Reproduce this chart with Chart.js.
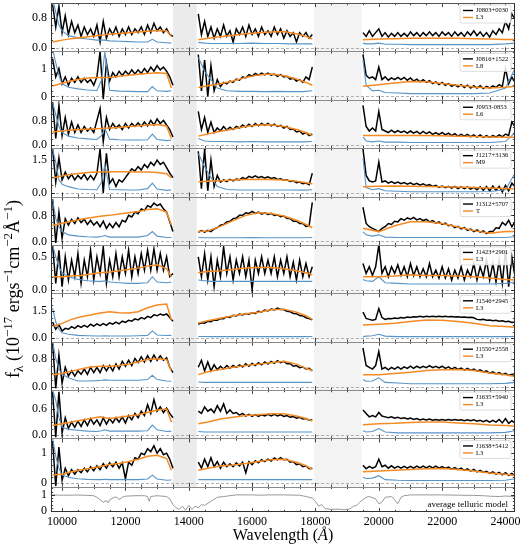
<!DOCTYPE html>
<html lang="en">
<head>
  <meta charset="UTF-8" />
  <title>Spectra and best-fit models</title>
  <style>
    html, body { margin: 0; padding: 0; background: #fff; }
    #wrap { width: 520px; height: 550px; }
  </style>
  <script src="https://cdn.jsdelivr.net/npm/chart.js"></script>
</head>
<body>
  <div id="wrap"><canvas id="spec" width="520" height="550"></canvas></div>

  <script>
    // --- wavelength grids (Angstrom) for the three windows ---
    const wA = [9700,9800,9900,10000,10100,10200,10300,10400,10500,10600,10700,10800,10900,11000,11100,11200,11300,11400,11500,11600,11700,11800,11900,12000,12100,12200,12300,12400,12500,12600,12700,12800,12900,13000,13100,13200,13300,13400,13500];
    const wB = [14300,14400,14500,14600,14700,14800,14900,15000,15100,15200,15300,15400,15500,15600,15700,15800,15900,16000,16100,16200,16300,16400,16500,16600,16700,16800,16900,17000,17100,17200,17300,17400,17500,17600,17700,17800,17900];
    const wC = [19500,19600,19700,19800,19900,20000,20100,20200,20300,20400,20500,20600,20700,20800,20900,21000,21100,21200,21300,21400,21500,21600,21700,21800,21900,22000,22100,22200,22300,22400,22500,22600,22700,22800,22900,23000,23100,23200,23300,23400,23500,23600,23700,23800,23900,24000,24100,24200,24300];
    // model grid
    const mwA = [9700,10000,10300,10600,10900,11200,11500,11800,12100,12400,12700,13000,13300,13450];
    const mwB = [14300,14600,15000,15400,15800,16200,16600,17000,17400,17700,17900];
    const mwC = [19500,20000,20500,21000,21500,22000,22500,23000,23500,24000,24300];
    // noise grid
    const nwA = [9700,9800,9900,10000,10200,10500,10800,11100,11250,11350,11500,11800,12100,12400,12700,12850,13000,13300,13450];
    const nwB = [14300,14500,14700,14900,15200,15600,16000,16400,16800,17200,17600,17900];
    const nwC = [19500,19600,19800,20000,20200,20600,21000,21500,22000,22500,23000,23500,24000,24300];

    const objNames = ['J0803+0030','J0816+1522','J0953-0853','J1217+3136','J1312+5707','J1423+2901','J1546+2945','J1550+2558','J1635+5940','J1638+5412'];
    const objTypes = ['L3','L8','L6','M9','T','L3','L3','L3','L3','L3'];

    // observed spectra (black)
    const f0803 = [1.15,0.55,1.1,0.4,0.85,0.35,0.7,0.4,0.6,0.3, 0.55,0.35,0.5,0.3,0.6,0.15,0.7,0.25,0.5,0.35, 0.55,0.3,0.5,0.35,0.55,0.35,0.5,0.4,0.55,0.35, 0.6,0.4,0.65,0.45,0.55,0.4,0.5,0.35,0.3,
      0.9,0.35,0.7,0.3,0.55,0.25,0.5,0.3,0.6,0.3, 0.45,0.15,0.5,0.35,0.55,0.3,0.6,0.35,0.5,0.3, 0.55,0.35,0.45,0.3,0.55,0.35,0.5,0.25,0.45,0.3, 0.4,0.15,0.4,0.3,0.4,0.25,0.35,
      0.4,0.3,0.45,0.3,0.4,0.5,0.3,0.4,0.28,0.38, 0.3,0.4,0.3,0.38,0.3,0.42,0.32,0.4,0.3,0.4, 0.32,0.42,0.32,0.4,0.3,0.42,0.33,0.4,0.3,0.42, 0.32,0.4,0.3,0.42,0.33,0.45,0.32,0.42,0.3,0.4, 0.28,0.45,0.35,0.5,0.4,0.7,0.5,0.9,0.75];
    const f0816 = [1.35,0.7,1.0,0.45,0.7,0.4,0.65,0.5,0.7,0.5, 0.65,0.5,0.6,0.4,0.7,1.6,-0.1,1.2,0.55,0.85, 0.7,0.9,0.75,0.9,0.78,0.95,0.8,0.95,0.82,1.0, 0.85,1.05,0.9,1.1,0.95,1.05,0.9,0.7,0.4,
      1.5,0.2,1.3,0.0,1.1,0.2,0.6,0.35,0.5,0.45, 0.55,0.5,0.62,0.58,0.7,0.66,0.78,0.72,0.82,0.76, 0.83,0.77,0.83,0.76,0.8,0.72,0.78,0.7,0.72,0.62, 0.65,0.55,0.6,0.5,0.7,0.6,1.05,
      1.5,0.75,0.65,0.7,0.6,1.05,0.6,0.7,0.58,0.66, 0.6,0.68,0.6,0.68,0.58,0.66,0.55,0.62,0.52,0.6, 0.5,0.56,0.46,0.52,0.42,0.5,0.4,0.46,0.36,0.42, 0.34,0.42,0.32,0.4,0.3,0.38,0.3,0.38,0.28,0.36, 0.3,0.38,0.32,0.42,0.35,1.0,0.45,0.7,0.5];
    const f0953 = [1.4,0.2,1.3,0.3,0.9,0.35,0.75,0.4,0.65,0.4, 0.6,0.45,0.55,0.4,0.8,1.2,0.1,0.9,0.5,0.7, 0.55,0.65,0.5,0.7,0.55,0.7,0.6,0.72,0.6,0.75, 0.62,0.8,0.65,0.85,0.7,0.8,0.65,0.5,0.25,
      1.1,0.5,0.9,0.4,0.75,0.4,0.55,0.45,0.6,0.48, 0.58,0.5,0.6,0.55,0.65,0.58,0.68,0.6,0.7,0.62, 0.7,0.64,0.7,0.62,0.68,0.6,0.64,0.55,0.6,0.5, 0.52,0.42,0.45,0.35,0.4,0.3,0.35,
      1.3,0.6,0.45,0.55,0.45,1.1,0.5,0.45,0.4,0.48, 0.4,0.46,0.4,0.45,0.38,0.45,0.38,0.44,0.36,0.44, 0.36,0.42,0.34,0.4,0.33,0.4,0.32,0.38,0.3,0.36, 0.28,0.34,0.28,0.34,0.26,0.32,0.25,0.32,0.24,0.3, 0.24,0.3,0.25,0.32,0.26,0.35,0.3,0.75,0.6];
    const f1217 = [2.0,0.5,1.6,0.6,0.95,0.65,0.85,0.6,0.8,0.65, 0.85,0.6,0.8,0.6,0.9,2.0,0.0,1.8,0.45,0.65, 0.3,0.6,0.5,0.7,0.9,1.1,1.0,1.2,1.05,1.3, 1.15,1.4,1.25,1.5,1.3,1.4,1.15,0.9,0.7,
      1.9,0.2,2.0,0.1,1.5,0.3,0.8,0.5,0.6,0.52, 0.62,0.55,0.64,0.6,0.7,0.64,0.76,0.7,0.78,0.7, 0.75,0.68,0.74,0.66,0.7,0.62,0.65,0.58,0.6,0.52, 0.55,0.47,0.5,0.42,0.45,0.38,0.9,
      2.0,0.8,0.55,0.5,0.55,1.4,0.5,0.55,0.45,0.52, 0.44,0.5,0.42,0.48,0.4,0.46,0.38,0.44,0.36,0.42, 0.34,0.38,0.3,0.35,0.26,0.32,0.24,0.3,0.22,0.3, 0.2,0.28,0.2,0.28,0.18,0.26,0.15,0.28,0.12,0.3, 0.1,0.32,0.12,0.3,0.05,0.35,0.1,0.45,0.3];
    const f1312 = [1.3,-0.05,0.9,0.1,0.7,0.5,0.68,0.55,0.72,0.58, 0.68,0.52,0.65,0.5,0.6,0.45,0.62,0.4,0.55,0.42, 0.58,0.45,0.65,0.6,0.8,0.75,0.9,0.85,1.0,0.95, 1.1,1.05,1.18,1.1,1.15,1.0,0.9,0.6,0.3,
      0.28,0.33,0.28,0.34,0.3,0.38,0.42,0.5,0.52,0.6, 0.62,0.7,0.72,0.8,0.8,0.88,0.86,0.92,0.86,0.9, 0.84,0.88,0.83,0.86,0.8,0.82,0.76,0.78,0.7,0.7, 0.62,0.62,0.55,0.55,0.46,0.48,1.2,
      1.05,0.55,0.45,0.4,0.35,0.3,0.4,0.45,0.55,0.52, 0.62,0.6,0.7,0.65,0.72,0.68,0.74,0.66,0.7,0.64, 0.68,0.6,0.64,0.56,0.6,0.52,0.56,0.48,0.5,0.42, 0.46,0.38,0.42,0.34,0.38,0.3,0.35,0.28,0.32,0.24, 0.3,0.3,0.42,0.4,0.58,0.5,0.65,0.45,0.6];
    const f1423 = [0.68,0.1,0.6,0.05,0.5,0.15,0.45,0.2,0.55,0.1, 0.45,0.2,0.6,0.15,0.5,0.25,0.65,0.1,0.45,0.2, 0.55,0.2,0.5,0.25,0.6,0.2,0.5,0.25,0.55,0.3, 0.6,0.3,0.62,0.3,0.55,0.3,0.5,0.2,0.25,
      0.5,0.2,0.55,0.15,0.5,0.05,0.45,0.2,0.65,0.25, 0.5,0.15,0.45,0.25,0.5,0.2,0.45,0.0,0.45,0.25, 0.5,0.25,0.45,0.25,0.5,0.2,0.45,0.25,0.5,0.2, 0.42,0.15,0.45,0.2,0.4,0.2,0.35,
      0.4,0.25,0.35,0.22,0.35,0.68,0.25,0.35,0.2,0.35, 0.25,0.38,0.22,0.35,0.2,0.4,0.22,0.35,0.2,0.32, 0.2,0.4,0.2,0.3,0.18,0.35,0.18,0.32,0.15,0.3, 0.18,0.35,0.15,0.3,0.2,0.4,0.15,0.35,0.2,0.45, 0.15,0.4,0.12,0.45,0.1,0.6,0.05,0.5,0.2];
    const f1546 = [0.9,0.5,0.75,0.4,0.55,0.5,0.65,0.55,0.7,0.6, 0.72,0.62,0.78,0.68,0.8,0.7,0.82,0.72,0.86,0.78, 0.9,0.8,0.95,0.88,1.0,0.95,1.08,1.02,1.15,1.08, 1.22,1.15,1.3,1.25,1.35,1.28,1.35,1.15,0.95,
      0.78,0.86,0.84,0.94,0.92,1.02,1.0,1.1,1.08,1.2, 1.16,1.28,1.24,1.34,1.3,1.38,1.34,1.42,1.38,1.5, 1.46,1.57,1.52,1.62,1.58,1.68,1.6,1.6,1.5,1.48, 1.38,1.37,1.26,1.24,1.14,1.1,1.02,
      1.45,1.1,1.05,1.0,1.05,1.65,1.15,1.05,1.1,1.08, 1.12,1.1,1.15,1.13,1.18,1.16,1.2,1.18,1.22,1.19, 1.23,1.2,1.22,1.2,1.23,1.2,1.22,1.19,1.21,1.18, 1.2,1.17,1.18,1.15,1.17,1.14,1.05,1.03,1.05,1.0, 1.02,0.98,1.0,0.95,0.97,0.92,0.95,0.88,0.9];
    const f1550 = [1.25,-0.05,0.9,0.1,0.55,0.3,0.45,0.3,0.45,0.35, 0.5,0.35,0.55,0.4,0.55,0.4,0.6,0.45,0.6,0.45, 0.65,0.5,0.72,0.58,0.75,0.6,0.8,0.68,0.85,0.7, 0.88,0.72,0.9,0.75,0.88,0.75,0.82,0.55,0.4,
      0.55,0.75,0.45,0.7,0.45,0.62,0.48,0.58,0.5,0.6, 0.52,0.6,0.55,0.62,0.56,0.65,0.58,0.66,0.6,0.68, 0.62,0.7,0.64,0.72,0.66,0.74,0.68,0.72,0.65,0.66, 0.58,0.6,0.54,0.56,0.5,0.52,0.45,
      1.1,0.6,0.55,0.5,0.6,1.0,0.5,0.55,0.48,0.55, 0.5,0.56,0.5,0.56,0.52,0.58,0.52,0.58,0.53,0.58, 0.54,0.6,0.54,0.58,0.53,0.58,0.52,0.56,0.5,0.55, 0.49,0.53,0.47,0.52,0.46,0.5,0.44,0.48,0.42,0.45, 0.38,0.42,0.36,0.4,0.34,0.38,0.32,0.35,0.3];
    const f1635 = [1.0,-0.05,1.0,0.05,0.4,0.15,0.3,0.18,0.32,0.2, 0.35,0.22,0.38,0.25,0.35,0.22,0.4,0.25,0.38,0.28, 0.4,0.3,0.42,0.28,0.45,0.35,0.5,0.4,0.55,0.45, 0.7,0.5,0.82,0.55,0.65,0.52,0.62,0.5,0.4,
      0.55,0.5,0.65,0.55,0.6,0.52,0.68,0.55,0.72,0.5, 0.58,0.5,0.52,0.46,0.5,0.44,0.48,0.43,0.47,0.43, 0.47,0.44,0.48,0.44,0.48,0.44,0.47,0.43,0.45,0.41, 0.43,0.39,0.41,0.37,0.38,0.34,0.35,
      0.58,0.5,0.42,0.45,0.42,0.52,0.44,0.42,0.4,0.42, 0.39,0.41,0.38,0.4,0.37,0.39,0.36,0.38,0.35,0.37, 0.35,0.37,0.34,0.36,0.34,0.36,0.34,0.36,0.34,0.36, 0.34,0.35,0.33,0.35,0.33,0.35,0.32,0.34,0.31,0.34, 0.3,0.34,0.3,0.36,0.28,0.38,0.27,0.33,0.28];
    const f1638 = [1.4,-0.1,1.2,0.1,0.5,0.25,0.45,0.3,0.45,0.35, 0.5,0.38,0.55,0.42,0.58,0.45,0.65,0.5,0.68,0.55, 0.7,0.5,0.68,0.15,0.7,0.6,0.85,0.8,1.0,0.95, 1.15,1.05,1.25,1.0,1.15,0.95,1.0,0.8,0.5,
      0.7,0.5,0.8,0.55,0.85,0.55,0.72,0.5,0.7,0.55, 0.65,0.55,0.68,0.58,0.7,0.35,0.72,0.62,0.75,0.68, 0.78,0.72,0.8,0.74,0.84,0.78,0.85,0.78,0.8,0.7, 0.72,0.62,0.65,0.55,0.58,0.48,0.5,
      0.6,0.48,0.56,0.5,0.55,0.8,0.55,0.6,0.5,0.58, 0.5,0.56,0.5,0.56,0.5,0.56,0.5,0.57,0.51,0.57, 0.51,0.57,0.51,0.57,0.5,0.55,0.49,0.54,0.47,0.52, 0.45,0.5,0.43,0.48,0.4,0.46,0.38,0.43,0.36,0.4, 0.33,0.38,0.3,0.36,0.28,0.35,0.26,0.33,0.25];

    // best-fit templates (orange)
    const m0803 = [0.15,0.2,0.24,0.27,0.3,0.33,0.36,0.38,0.4,0.42,0.44,0.46,0.45,0.3, 0.21,0.25,0.29,0.33,0.37,0.4,0.42,0.43,0.37,0.3,0.23, 0.21,0.23,0.24,0.25,0.25,0.25,0.25,0.24,0.23,0.22,0.22];
    const m0816 = [0.37,0.47,0.56,0.62,0.67,0.68,0.68,0.72,0.76,0.79,0.82,0.85,0.82,0.3, 0.32,0.38,0.45,0.55,0.68,0.77,0.8,0.74,0.62,0.5,0.4, 0.36,0.42,0.48,0.53,0.52,0.46,0.4,0.34,0.3,0.33,0.36];
    const m0953 = [0.42,0.45,0.48,0.5,0.52,0.53,0.55,0.57,0.6,0.62,0.65,0.67,0.62,0.2, 0.28,0.35,0.44,0.52,0.6,0.65,0.66,0.6,0.5,0.4,0.3, 0.3,0.3,0.3,0.3,0.3,0.29,0.28,0.27,0.25,0.24,0.24];
    const m1217 = [0.68,0.78,0.85,0.9,0.94,0.96,0.97,0.97,0.97,0.96,0.95,0.93,0.88,0.68, 0.51,0.53,0.56,0.59,0.62,0.63,0.62,0.59,0.53,0.47,0.42, 0.29,0.31,0.32,0.31,0.3,0.29,0.27,0.25,0.23,0.2,0.18];
    const m1312 = [0.49,0.56,0.62,0.68,0.73,0.77,0.8,0.84,0.88,0.92,0.98,1.0,0.9,0.5, 0.3,0.32,0.46,0.64,0.8,0.88,0.86,0.78,0.65,0.52,0.42, 0.4,0.3,0.48,0.6,0.6,0.55,0.44,0.33,0.25,0.3,0.3];
    const m1423 = [0.2,0.2,0.21,0.22,0.24,0.26,0.27,0.29,0.31,0.33,0.36,0.38,0.32,0.2, 0.26,0.28,0.29,0.31,0.33,0.34,0.34,0.32,0.29,0.26,0.23, 0.2,0.2,0.21,0.23,0.22,0.22,0.21,0.2,0.18,0.16,0.15];
    const m1546 = [0.65,0.83,1.05,1.2,1.3,1.4,1.48,1.42,1.4,1.48,1.7,1.85,1.9,1.02, 0.85,0.98,1.11,1.25,1.36,1.45,1.58,1.62,1.45,1.25,1.05, 0.74,0.78,0.83,0.93,1.02,1.0,0.93,0.83,0.69,0.65,0.61];
    const m1550 = [0.34,0.37,0.44,0.5,0.56,0.58,0.58,0.6,0.64,0.7,0.77,0.79,0.77,0.46, 0.34,0.42,0.49,0.55,0.6,0.64,0.68,0.72,0.64,0.52,0.46, 0.34,0.34,0.37,0.41,0.46,0.48,0.49,0.46,0.39,0.34,0.29];
    const m1635 = [0.22,0.26,0.3,0.34,0.38,0.42,0.38,0.41,0.44,0.47,0.52,0.58,0.6,0.3, 0.26,0.3,0.37,0.41,0.45,0.47,0.49,0.49,0.44,0.38,0.32, 0.24,0.26,0.27,0.29,0.3,0.3,0.28,0.26,0.23,0.22,0.2];
    const m1638 = [0.27,0.3,0.38,0.45,0.5,0.56,0.62,0.66,0.72,0.8,0.9,0.93,0.82,0.43, 0.43,0.5,0.57,0.61,0.66,0.72,0.78,0.8,0.7,0.58,0.46, 0.38,0.41,0.43,0.46,0.48,0.49,0.46,0.41,0.34,0.3,0.26];

    // noise spectra (blue)
    const n0803 = [1.3,0.95,0.6,0.45,0.32,0.26,0.23,0.2,0.2,0.2,0.18,0.17,0.16,0.15,0.15,0.22,0.15,0.13,0.12, 0.14,0.12,0.11,0.11,0.11,0.11,0.12,0.11,0.11,0.1,0.1,0.1, 0.12,0.1,0.1,0.12,0.09,0.09,0.08,0.08,0.08,0.08,0.08,0.08,0.1,0.12];
    const n0816 = [1.7,1.2,0.75,0.45,0.33,0.27,0.23,0.21,0.6,1.6,0.22,0.19,0.18,0.17,0.17,0.35,0.2,0.18,0.2, 1.4,0.9,0.6,0.3,0.2,0.18,0.18,0.17,0.18,0.17,0.17,0.2, 1.3,0.4,0.2,0.22,0.14,0.12,0.1,0.1,0.1,0.1,0.1,0.12,0.3,1.0];
    const n0953 = [1.4,1.0,0.6,0.4,0.28,0.22,0.19,0.17,0.3,0.55,0.18,0.16,0.15,0.15,0.16,0.35,0.17,0.13,0.15, 0.2,0.12,0.1,0.1,0.1,0.09,0.1,0.09,0.09,0.09,0.09,0.1, 0.25,0.12,0.09,0.12,0.08,0.08,0.07,0.07,0.07,0.07,0.07,0.07,0.1,0.4];
    const n1217 = [2.0,1.4,0.6,0.4,0.29,0.18,0.16,0.15,0.5,1.3,0.16,0.15,0.14,0.14,0.2,0.45,0.18,0.12,0.14, 1.8,1.2,0.7,0.3,0.16,0.14,0.14,0.14,0.14,0.14,0.13,0.15, 1.6,0.25,0.15,0.2,0.1,0.08,0.06,0.06,0.06,0.06,0.06,0.07,0.15,0.9];
    const n1312 = [1.3,0.7,0.45,0.3,0.2,0.16,0.14,0.13,0.15,0.18,0.13,0.13,0.13,0.13,0.18,0.3,0.16,0.12,0.12, 0.12,0.11,0.11,0.11,0.11,0.11,0.12,0.11,0.11,0.11,0.11,0.12, 0.29,0.2,0.16,0.2,0.13,0.12,0.12,0.12,0.12,0.12,0.12,0.12,0.12,0.14];
    const n1423 = [0.68,0.5,0.35,0.26,0.2,0.16,0.14,0.13,0.13,0.14,0.12,0.11,0.1,0.1,0.11,0.2,0.12,0.11,0.12, 0.15,0.14,0.13,0.13,0.13,0.13,0.13,0.13,0.13,0.13,0.13,0.13, 0.16,0.14,0.13,0.2,0.11,0.1,0.09,0.09,0.09,0.09,0.09,0.09,0.1,0.12];
    const n1546 = [1.67,0.9,0.5,0.3,0.22,0.16,0.14,0.13,0.13,0.14,0.13,0.13,0.13,0.14,0.16,0.41,0.18,0.15,0.16, 0.1,0.1,0.09,0.09,0.09,0.09,0.1,0.09,0.09,0.09,0.09,0.1, 0.09,0.12,0.14,0.22,0.12,0.09,0.09,0.09,0.09,0.09,0.09,0.09,0.09,0.1];
    const n1550 = [1.28,0.8,0.5,0.35,0.25,0.16,0.16,0.17,0.18,0.19,0.18,0.18,0.18,0.18,0.2,0.32,0.2,0.16,0.15, 0.13,0.12,0.12,0.12,0.12,0.12,0.12,0.12,0.12,0.12,0.12,0.12, 0.2,0.15,0.16,0.25,0.12,0.1,0.08,0.08,0.08,0.08,0.08,0.08,0.09,0.12];
    const n1635 = [1.04,0.8,0.4,0.18,0.13,0.11,0.09,0.08,0.1,0.12,0.09,0.09,0.09,0.09,0.1,0.23,0.12,0.08,0.09, 0.08,0.07,0.07,0.07,0.07,0.07,0.07,0.07,0.07,0.07,0.07,0.07, 0.1,0.07,0.08,0.15,0.07,0.05,0.05,0.05,0.05,0.05,0.05,0.05,0.06,0.1];
    const n1638 = [1.49,0.9,0.5,0.27,0.2,0.15,0.13,0.12,0.12,0.13,0.12,0.12,0.12,0.12,0.14,0.27,0.14,0.1,0.11, 0.12,0.12,0.12,0.12,0.12,0.12,0.12,0.12,0.12,0.12,0.12,0.12, 0.2,0.16,0.17,0.25,0.12,0.1,0.09,0.09,0.09,0.09,0.09,0.09,0.1,0.15];

    // average telluric transmission
    const tellWave = [9700,10000,10500,10800,11000,11100,11200,11300,11400,11450,11500,11600,11700,11800,11900,12000,12300,12600,12700,12750,12800,13000,13300,13400,13500,13600,13700,13800,13900,14000,14100,14200,14300,14400,14500,14700,14900,15100,15300,15500,16000,16300,16500,17000,17500,17700,17900,18000,18100,18200,18300,18500,18700,18900,19000,19100,19200,19300,19400,19500,19600,19700,19900,20000,20100,20200,20400,20500,20600,20700,20800,21000,22000,22500,23000,23300,23500,23800,24000,24300];
    const tellVal = [1.0,0.98,0.99,0.97,0.95,0.85,0.7,0.55,0.65,0.5,0.7,0.8,0.88,0.72,0.85,0.92,0.95,0.95,0.9,0.6,0.9,0.95,0.9,0.75,0.4,0.2,0.1,0.3,0.05,0.35,0.1,0.3,0.2,0.4,0.35,0.6,0.85,0.9,0.95,1.0,1.0,0.98,1.0,1.0,0.98,0.9,0.8,0.6,0.3,0.4,0.15,0.1,0.12,0.08,0.1,0.15,0.3,0.35,0.55,0.7,0.85,0.9,0.75,0.45,0.55,0.85,0.9,0.7,0.45,0.85,0.95,1.0,1.0,0.98,0.97,0.95,0.92,0.9,0.93,0.9];

    // axes
    const xTickVals = [10000,12000,14000,16000,18000,20000,22000,24000];
    const yMins = [-0.1,-0.12,-0.12,-0.16,-0.11,-0.05,-0.19,-0.1,-0.08,-0.12,-0.06];
    const yMaxs = [1.19,1.61,1.49,2.04,1.38,0.68,2.5,1.28,1.04,1.49,1.5];
    const yTickVals = [[0,0.8],[0,1],[0,0.8],[0,1.5],[0,0.8],[0,0.5],[0,1.5],[0,0.8],[0,0.6],[0,1],[0,1]];
    const yTickText = [['0.0','0.8'],['0','1'],['0.0','0.8'],['0.0','1.5'],['0.0','0.8'],['0.0','0.5'],['0.0','1.5'],['0.0','0.8'],['0.0','0.6'],['0','1'],['0','1']];
    const yMinorStep = [0.2,0.2,0.2,0.375,0.2,0.1,0.375,0.2,0.15,0.2,0.2];
    const maskBands = [[13500,14250],[17950,19450]];

    const fluxes = [f0803,f0816,f0953,f1217,f1312,f1423,f1546,f1550,f1635,f1638];
    const models = [m0803,m0816,m0953,m1217,m1312,m1423,m1546,m1550,m1635,m1638];
    const noises = [n0803,n0816,n0953,n1217,n1312,n1423,n1546,n1550,n1635,n1638];

    const ORANGE = '#f58a22';
    const BLUE = '#5794c8';
    const SERIF = '"Liberation Serif", "DejaVu Serif", serif';
    Chart.defaults.font.family = SERIF;

    const panelIds = yMins.map((_, i) => 'p' + i);

    // three windows joined, with a null point so the line breaks in the gaps
    function joinSegments(grids, vals) {
      const pts = [];
      let k = 0;
      grids.forEach((g, s) => {
        if (s > 0) pts.push({ x: (g[0] + grids[s - 1][grids[s - 1].length - 1]) / 2, y: null });
        g.forEach(w => pts.push({ x: w, y: vals[k++] }));
      });
      return pts;
    }

    const datasets = [];
    objNames.forEach((name, i) => {
      datasets.push({ label: name, data: joinSegments([wA, wB, wC], fluxes[i]), borderColor: '#000', borderWidth: 1.5, yAxisID: panelIds[i], order: 2 });
      datasets.push({ label: name + ' noise', data: joinSegments([nwA, nwB, nwC], noises[i]), borderColor: BLUE, borderWidth: 1.1, yAxisID: panelIds[i], order: 1 });
      datasets.push({ label: objTypes[i], data: joinSegments([mwA, mwB, mwC], models[i]), borderColor: ORANGE, borderWidth: 1.5, yAxisID: panelIds[i], order: 0 });
    });
    datasets.push({ label: 'telluric', data: tellWave.map((w, k) => ({ x: w, y: tellVal[k] })), borderColor: '#999', borderWidth: 1, yAxisID: 'p10', order: 0 });

    const scales = {
      x: {
        type: 'linear', position: 'bottom', min: 9650, max: 24300,
        grid: { display: false, drawTicks: false }, border: { display: false },
        afterBuildTicks: s => { s.ticks = xTickVals.map(v => ({ value: v })); },
        ticks: { callback: v => String(v), font: { size: 12 }, color: '#000', padding: 3, maxRotation: 0, autoSkip: false },
        afterFit: s => { s.height = 38; s.paddingLeft = 0; s.paddingRight = 0; }
      }
    };
    panelIds.forEach((id, i) => {
      scales[id] = {
        type: 'linear', position: 'left', stack: 'panels', stackWeight: i === 10 ? 0.52 : 1, weight: 20 - i,
        min: yMins[i], max: yMaxs[i],
        grid: { display: false, drawTicks: false }, border: { display: false },
        afterBuildTicks: s => { s.ticks = yTickVals[i].map(v => ({ value: v })); },
        ticks: { callback: (v, k) => yTickText[i][k], font: { size: 12 }, color: '#000', padding: 4, autoSkip: false },
        afterFit: s => { s.width = 51; s.paddingTop = 0; s.paddingBottom = 0; }
      };
    });

    function drawYLabel(ctx, cx, cy) {
      const parts = [['f', 0], ['λ', -1], [' (10', 0], ['−17', 1], [' ergs', 0], ['−1', 1], ['cm', 0], ['−2', 1], ['Å', 0], ['−1', 1], [')', 0]];
      const big = '18px ' + SERIF, small = '13px ' + SERIF;
      ctx.save();
      ctx.translate(cx, cy);
      ctx.rotate(-Math.PI / 2);
      ctx.fillStyle = '#000';
      ctx.textBaseline = 'alphabetic';
      let total = 0;
      const widths = parts.map(p => { ctx.font = p[1] ? small : big; const w = ctx.measureText(p[0]).width; total += w; return w; });
      let x = -total / 2;
      parts.forEach((p, k) => {
        ctx.font = p[1] ? small : big;
        ctx.fillText(p[0], x, p[1] === 1 ? -7 : (p[1] === -1 ? 4 : 0));
        x += widths[k];
      });
      ctx.restore();
    }

    const panelDecor = {
      id: 'panelDecor',
      beforeDatasetsDraw(chart) {
        const ctx = chart.ctx, xs = chart.scales.x;
        ctx.save();
        objNames.forEach((_, i) => {
          const ys = chart.scales[panelIds[i]];
          maskBands.forEach((b, k) => {
            const x0 = xs.getPixelForValue(b[0]), x1 = xs.getPixelForValue(b[1]);
            ctx.fillStyle = k === 0 ? '#ebebeb' : '#f3f3f3';
            ctx.fillRect(x0, ys.top, x1 - x0, ys.bottom - ys.top);
          });
          const y0 = Math.round(ys.getPixelForValue(0)) + 0.5;
          ctx.strokeStyle = '#a0a0a0';
          ctx.lineWidth = 0.8;
          ctx.setLineDash([3, 2]);
          ctx.beginPath();
          ctx.moveTo(xs.left, y0);
          ctx.lineTo(xs.right, y0);
          ctx.stroke();
          ctx.setLineDash([]);
        });
        ctx.restore();
      },
      // keep each spectrum inside its own panel
      beforeDatasetDraw(chart, args) {
        const ys = args.meta.yScale, xs = chart.scales.x, ctx = chart.ctx;
        ctx.save();
        ctx.beginPath();
        ctx.rect(xs.left, ys.top, xs.right - xs.left, ys.bottom - ys.top);
        ctx.clip();
      },
      afterDatasetDraw(chart) {
        chart.ctx.restore();
      },
      afterDraw(chart) {
        const ctx = chart.ctx, xs = chart.scales.x;
        const L = xs.left, R = xs.right;
        ctx.save();
        panelIds.forEach((id, i) => {
          const ys = chart.scales[id];
          const T = ys.top, B = ys.bottom;
          // ticks, pointing inwards on all sides
          ctx.strokeStyle = '#111';
          ctx.lineWidth = 0.8;
          ctx.beginPath();
          for (let v = 10000; v <= 24000; v += 500) {
            const px = Math.round(xs.getPixelForValue(v)) + 0.5;
            const len = v % 2000 === 0 ? 4 : 2.2;
            ctx.moveTo(px, B); ctx.lineTo(px, B - len);
            ctx.moveTo(px, T); ctx.lineTo(px, T + len);
          }
          const step = yMinorStep[i];
          for (let k = Math.ceil(yMins[i] / step); k * step <= yMaxs[i]; k++) {
            const py = Math.round(ys.getPixelForValue(k * step)) + 0.5;
            ctx.moveTo(L, py); ctx.lineTo(L + 2.2, py);
            ctx.moveTo(R, py); ctx.lineTo(R - 2.2, py);
          }
          yTickVals[i].forEach(v => {
            const py = Math.round(ys.getPixelForValue(v)) + 0.5;
            ctx.moveTo(L, py); ctx.lineTo(L + 4, py);
            ctx.moveTo(R, py); ctx.lineTo(R - 4, py);
          });
          ctx.stroke();
          // panel frame
          ctx.strokeStyle = i === 0 ? '#555' : '#8a8a8a';
          ctx.lineWidth = 1;
          ctx.beginPath();
          ctx.moveTo(L, Math.round(T) + 0.5); ctx.lineTo(R, Math.round(T) + 0.5);
          ctx.stroke();
          // legend box
          if (i < objNames.length) {
            const bw = 51, bh = 18, bx = R - 4 - bw, by = T + 2;
            ctx.fillStyle = 'rgba(255,255,255,0.85)';
            ctx.strokeStyle = '#d4d4d4';
            ctx.lineWidth = 0.8;
            ctx.beginPath();
            ctx.roundRect(bx, by, bw, bh, 2);
            ctx.fill();
            ctx.stroke();
            ctx.lineWidth = 1.4;
            ctx.strokeStyle = '#000';
            ctx.beginPath(); ctx.moveTo(bx + 3, by + 5.5); ctx.lineTo(bx + 13, by + 5.5); ctx.stroke();
            ctx.strokeStyle = ORANGE;
            ctx.beginPath(); ctx.moveTo(bx + 3, by + 12.5); ctx.lineTo(bx + 13, by + 12.5); ctx.stroke();
            ctx.fillStyle = '#000';
            ctx.font = '6.5px ' + SERIF;
            ctx.textBaseline = 'middle';
            ctx.textAlign = 'left';
            ctx.fillText(objNames[i], bx + 16, by + 5.5);
            ctx.fillText(objTypes[i], bx + 16, by + 12.5);
          }
        });
        // outer frame
        const top = chart.scales[panelIds[0]].top, bottom = chart.scales[panelIds[10]].bottom;
        ctx.strokeStyle = '#333';
        ctx.lineWidth = 1;
        ctx.beginPath();
        ctx.moveTo(Math.round(L) + 0.5, top); ctx.lineTo(Math.round(L) + 0.5, bottom);
        ctx.moveTo(Math.round(R) - 0.5, top); ctx.lineTo(Math.round(R) - 0.5, bottom);
        ctx.moveTo(L, Math.round(bottom) - 0.5); ctx.lineTo(R, Math.round(bottom) - 0.5);
        ctx.stroke();

        // telluric caption
        const ts = chart.scales.p10;
        ctx.font = '9px ' + SERIF;
        ctx.textAlign = 'right';
        ctx.textBaseline = 'alphabetic';
        const cw = ctx.measureText('average telluric model').width;
        ctx.fillStyle = 'rgba(255,255,255,0.85)';
        ctx.fillRect(R - 8 - cw - 2, ts.bottom - 13, cw + 5, 10);
        ctx.fillStyle = '#000';
        ctx.fillText('average telluric model', R - 7, ts.bottom - 5);

        // axis titles
        ctx.textBaseline = 'middle';
        ctx.textAlign = 'left';
        const t1 = 'Wavelength (', t3 = ')';
        ctx.font = '16px ' + SERIF;
        const w1 = ctx.measureText(t1).width, w3 = ctx.measureText(t3).width;
        ctx.font = 'italic 16px ' + SERIF;
        const w2 = ctx.measureText('Å').width;
        const tx = (L + R) / 2 - (w1 + w2 + w3) / 2;
        ctx.font = '16px ' + SERIF;
        ctx.fillText(t1, tx, 536);
        ctx.font = 'italic 16px ' + SERIF;
        ctx.fillText('Å', tx + w1, 536);
        ctx.font = '16px ' + SERIF;
        ctx.fillText(t3, tx + w1 + w2, 536);

        drawYLabel(ctx, 19, 289);
        ctx.restore();
      }
    };

    new Chart(document.getElementById('spec'), {
      type: 'line',
      data: { datasets: datasets },
      options: {
        responsive: false,
        animation: false,
        devicePixelRatio: 1,
        events: [],
        layout: { padding: { top: 3, right: 5, left: 0, bottom: 0 } },
        elements: { point: { radius: 0 }, line: { tension: 0, fill: false } },
        spanGaps: false,
        plugins: { legend: { display: false }, tooltip: { enabled: false } },
        scales: scales
      },
      plugins: [panelDecor]
    });
  </script>
</body>
</html>
